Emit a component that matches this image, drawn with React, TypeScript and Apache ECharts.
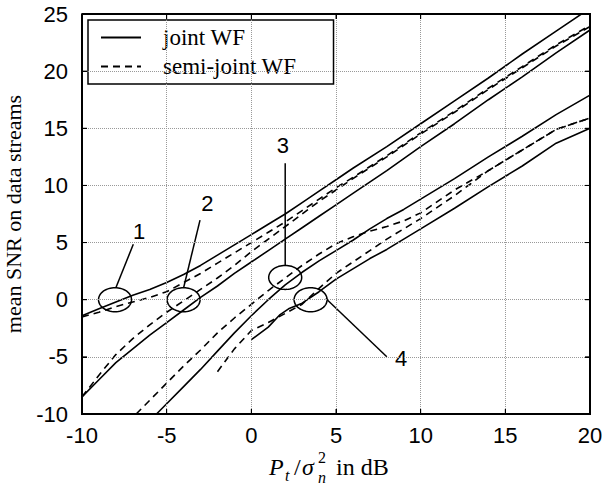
import React, { useEffect, useRef } from "react";
import * as echarts from "echarts";

// ---- data ----
const jointA: number[][] = [
  [-10, -1.4], [-9, -0.8], [-8, -0.2], [-7, 0.4], [-6, 0.9], [-5, 1.5], [-4, 2.2], [-3, 3.0],
  [-2, 3.9], [-1, 4.8], [0, 5.7], [1, 6.6], [2, 7.5], [3, 8.5], [4, 9.5], [5, 10.5], [6, 11.5],
  [8, 13.4], [10, 15.4], [12, 17.4], [14, 19.4], [16, 21.5], [18, 23.5], [20, 25.5],
];
const semiA: number[][] = [
  [-10, -1.5], [-9, -1.1], [-8, -0.6], [-7, -0.2], [-6, 0.2], [-5, 0.7], [-4, 1.5], [-3, 2.3],
  [-2, 3.2], [-1, 4.1], [0, 5.0], [1, 5.9], [2, 6.8], [3, 7.8], [4, 8.8], [5, 9.8], [6, 10.7],
  [8, 12.6], [10, 14.6], [12, 16.5], [14, 18.5], [16, 20.4], [18, 22.3], [20, 24.0],
];
const jointB: number[][] = [
  [-10, -8.5], [-9, -7.0], [-8, -5.5], [-7, -4.3], [-6, -3.1], [-5, -2.0], [-4, -0.9], [-3, 0.2],
  [-2, 1.2], [-1, 2.3], [0, 3.3], [1, 4.3], [2, 5.3], [3, 6.3], [4, 7.3], [5, 8.3], [6, 9.3],
  [8, 11.3], [10, 13.4], [12, 15.4], [14, 17.5], [16, 19.5], [18, 21.6], [20, 23.6],
];
const semiB: number[][] = [
  [-10, -8.5], [-9, -6.6], [-8, -4.8], [-7, -3.4], [-6, -2.2], [-5, -1.1], [-4, -0.1], [-3, 0.9],
  [-2, 1.9], [-1, 3.0], [0, 4.2], [1, 5.3], [2, 6.4], [3, 7.5], [4, 8.6], [5, 9.6], [6, 10.6],
  [8, 12.5], [10, 14.5], [12, 16.4], [14, 18.4], [16, 20.3], [18, 22.2], [20, 23.9],
];
const jointC: number[][] = [
  [-5.6, -10], [-5, -9.1], [-4, -7.6], [-3, -6.1], [-2, -4.5], [-1, -2.9], [0, -1.4], [1, 0.0],
  [2, 1.3], [3, 2.4], [4, 3.4], [5, 4.3], [6, 5.2], [7, 6.2], [8, 7.1], [9, 7.9], [10, 8.8],
  [12, 10.6], [14, 12.5], [16, 14.3], [18, 16.2], [20, 17.9],
];
const semiC: number[][] = [
  [-6.8, -10], [-6, -8.8], [-5, -7.3], [-4, -5.8], [-3, -4.4], [-2, -2.9], [-1, -1.6], [0, -0.4],
  [1, 0.8], [2, 1.9], [3, 3.0], [4, 4.0], [5, 4.9], [6, 5.5], [7, 6.0], [8, 6.4], [9, 6.9],
  [10, 7.6], [12, 9.6], [14, 11.3], [16, 13.1], [18, 14.9], [20, 15.9],
];
const jointD: number[][] = [
  [0, -3.5], [1, -2.4], [1.7, -1.3], [2.2, -0.8], [3, -0.3], [4, 0.7], [5, 1.8], [6, 2.7],
  [7, 3.6], [8, 4.4], [9, 5.3], [10, 6.2], [12, 8.0], [14, 9.9], [16, 11.7], [18, 13.7], [20, 15.0],
];
const semiD: number[][] = [
  [-2, -6.3], [-1, -4.3], [0, -2.7], [1, -2.0], [2, -1.2], [3, -0.4], [4, 1.0], [5, 2.3],
  [6, 3.3], [7, 4.3], [8, 5.3], [9, 6.2], [10, 7.1], [12, 9.1], [14, 11.3], [16, 13.1],
  [18, 14.9], [20, 15.9],
];

const legendNames = ["joint WF", "semi-joint WF"];
const xTicks = { min: -10, max: 20, interval: 5 };
const yTicks = { min: -10, max: 25, interval: 5 };
const xTickValues = [-10, -5, 0, 5, 10, 15, 20];
const yTickValues = [-10, -5, 0, 5, 10, 15, 20, 25];

// annotations (data coordinates)
const annLabels = ["1", "2", "3", "4"];
const annCenters: number[][] = [[-8.05, 0], [-4.0, 0], [2.0, 1.95], [3.5, 0]];
const annLeaderFrom: number[][] = [[-8.0, 1.05], [-4.0, 1.05], [2.0, 2.95], [4.4, 0.1]];
const annLeaderTo: number[][] = [[-6.97, 4.85], [-3.03, 6.97], [2.0, 11.93], [8.0, -4.99]];
const annLabelPos: number[][] = [[-6.62, 5.95], [-2.59, 8.43], [1.87, 13.46], [8.84, -5.14]];

const SERIF = "'Liberation Serif', 'DejaVu Serif', serif";
const SANS = "'Liberation Sans', Arial, sans-serif";

const makeAxisLine = () => ({ show: true, onZero: false, lineStyle: { color: "#000", width: 1.5, type: "solid" } });
const makeAxisTick = () => ({ show: true, inside: true, length: 5, lineStyle: { color: "#000", width: 1, type: "solid" } });
const makeSplit = () => ({ show: true, lineStyle: { color: "#999", width: 1, type: "dotted" } });

export default function App() {
  const ref = useRef<HTMLDivElement>(null);
  useEffect(() => {
    if (!ref.current) return;
    const chart = echarts.init(ref.current, null, { renderer: "svg" });

    const lineSeries = (name: string, data: number[][], dashed: boolean) => ({
      name,
      type: "line",
      data,
      showSymbol: false,
      symbol: "none",
      clip: true,
      lineStyle: { color: "#000", width: 1.6, type: dashed ? [7, 5] : "solid" },
      itemStyle: { color: "#000" },
    });

    const textEl = (text: string, x: number, y: number, size: number, italic: boolean) => ({
      type: "text",
      x,
      y,
      style: {
        text,
        fontFamily: SERIF,
        fontStyle: italic ? "italic" : "normal",
        fontSize: size,
        fill: "#000",
        verticalAlign: "middle",
      },
    });

    chart.setOption({
      animation: false,
      grid: {
        left: 82,
        right: 12,
        top: 14,
        bottom: 73,
        outerBoundsMode: "none",
      },
      legend: {
        data: legendNames.map((n) => ({ name: n })),
        orient: "vertical",
        left: 88,
        top: 20,
        padding: [6, 37, 6, 12],
        itemWidth: 40,
        itemHeight: 14,
        itemGap: 6,
        backgroundColor: "#fff",
        borderColor: "#000",
        borderWidth: 1.5,
        borderRadius: 0,
        selectedMode: false,
        itemStyle: { opacity: 0 },
        textStyle: { fontFamily: SERIF, fontSize: 23, color: "#000", padding: [0, 0, 0, 17] },
      },
      xAxis: [
        {
          type: "value",
          ...xTicks,
          position: "bottom",
          z: 50,
          axisLine: makeAxisLine(),
          axisTick: makeAxisTick(),
          axisLabel: { color: "#000", fontFamily: SANS, fontSize: 22, margin: 10 },
          splitLine: makeSplit(),
        },
        {
          type: "value",
          ...xTicks,
          position: "top",
          z: 50,
          axisLine: makeAxisLine(),
          axisTick: makeAxisTick(),
          axisLabel: { show: false },
          splitLine: { show: false },
        },
      ],
      yAxis: [
        {
          type: "value",
          ...yTicks,
          position: "left",
          z: 50,
          name: "mean SNR on data streams",
          nameLocation: "middle",
          nameGap: 58,
          nameTextStyle: { fontFamily: SERIF, fontSize: 22, color: "#000" },
          axisLine: makeAxisLine(),
          axisTick: makeAxisTick(),
          axisLabel: { color: "#000", fontFamily: SANS, fontSize: 22, margin: 14 },
          splitLine: makeSplit(),
        },
        {
          type: "value",
          ...yTicks,
          position: "right",
          z: 50,
          axisLine: makeAxisLine(),
          axisTick: makeAxisTick(),
          axisLabel: { show: false },
          splitLine: { show: false },
        },
      ],
      series: [
        lineSeries(legendNames[0], jointA, false),
        lineSeries(legendNames[1], semiA, true),
        lineSeries(legendNames[0], jointB, false),
        lineSeries(legendNames[1], semiB, true),
        lineSeries(legendNames[0], jointC, false),
        lineSeries(legendNames[1], semiC, true),
        lineSeries(legendNames[0], jointD, false),
        lineSeries(legendNames[1], semiD, true),
        {
          type: "custom",
          name: "annotations",
          coordinateSystem: "cartesian2d",
          clip: false,
          silent: true,
          data: annCenters.map((c, i) => [c[0], c[1], i]),
          encode: { x: 0, y: 1 },
          renderItem: (params: any, api: any) => {
            const i = params.dataIndex;
            const c = api.coord(annCenters[i]);
            const rx = 16.5;
            const ry = 12;
            const pts: number[][] = [];
            for (let k = 0; k <= 64; k++) {
              const t = (k / 64) * Math.PI * 2;
              pts.push([c[0] + rx * Math.cos(t), c[1] + ry * Math.sin(t)]);
            }
            const a = api.coord(annLeaderFrom[i]);
            const b = api.coord(annLeaderTo[i]);
            const lp = api.coord(annLabelPos[i]);
            return {
              type: "group",
              children: [
                {
                  type: "polyline",
                  shape: { points: pts },
                  style: { fill: "none", stroke: "#000", lineWidth: 1.5 },
                },
                {
                  type: "line",
                  shape: { x1: a[0], y1: a[1], x2: b[0], y2: b[1] },
                  style: { stroke: "#000", lineWidth: 1.5 },
                },
                {
                  type: "text",
                  x: lp[0],
                  y: lp[1],
                  style: {
                    text: annLabels[i],
                    fontFamily: SANS,
                    fontSize: 22,
                    fill: "#000",
                    align: "center",
                    verticalAlign: "middle",
                  },
                },
              ],
            };
          },
        },
        {
          // plot box with inward ticks on all four sides, placed via the axes' scales
          type: "custom",
          name: "frame",
          coordinateSystem: "cartesian2d",
          clip: false,
          silent: true,
          z: 100,
          data: [[xTicks.min, yTicks.min]],
          encode: { x: 0, y: 1 },
          renderItem: (params: any, api: any) => {
            const tl = api.coord([xTicks.min, yTicks.max]);
            const br = api.coord([xTicks.max, yTicks.min]);
            const TL = 5;
            const tick = { stroke: "#000", lineWidth: 1 };
            const children: any[] = [
              {
                type: "polyline",
                shape: { points: [[tl[0], tl[1]], [br[0], tl[1]], [br[0], br[1]], [tl[0], br[1]], [tl[0], tl[1]]] },
                style: { fill: "none", stroke: "#000", lineWidth: 2 },
              },
            ];
            xTickValues.forEach((v) => {
              const p = api.coord([v, yTicks.min]);
              children.push({ type: "line", shape: { x1: p[0], y1: br[1], x2: p[0], y2: br[1] - TL }, style: tick });
              children.push({ type: "line", shape: { x1: p[0], y1: tl[1], x2: p[0], y2: tl[1] + TL }, style: tick });
            });
            yTickValues.forEach((v) => {
              const p = api.coord([xTicks.min, v]);
              children.push({ type: "line", shape: { x1: tl[0], y1: p[1], x2: tl[0] + TL, y2: p[1] }, style: tick });
              children.push({ type: "line", shape: { x1: br[0], y1: p[1], x2: br[0] - TL, y2: p[1] }, style: tick });
            });
            return { type: "group", children };
          },
        },
      ],
      graphic: [
        textEl("P", 269, 467, 24, true),
        textEl("t", 285, 475, 16, true),
        textEl("/", 294, 467, 24, false),
        textEl("σ", 302, 467, 24, true),
        textEl("2", 318, 457, 16, false),
        textEl("n", 318, 477, 16, true),
        textEl("in dB", 336, 467, 24, false),
      ],
    });
    return () => chart.dispose();
  }, []);
  return <div ref={ref} style={{ width: 602, height: 487, position: "absolute", left: 0, top: 0 }} />;
}
